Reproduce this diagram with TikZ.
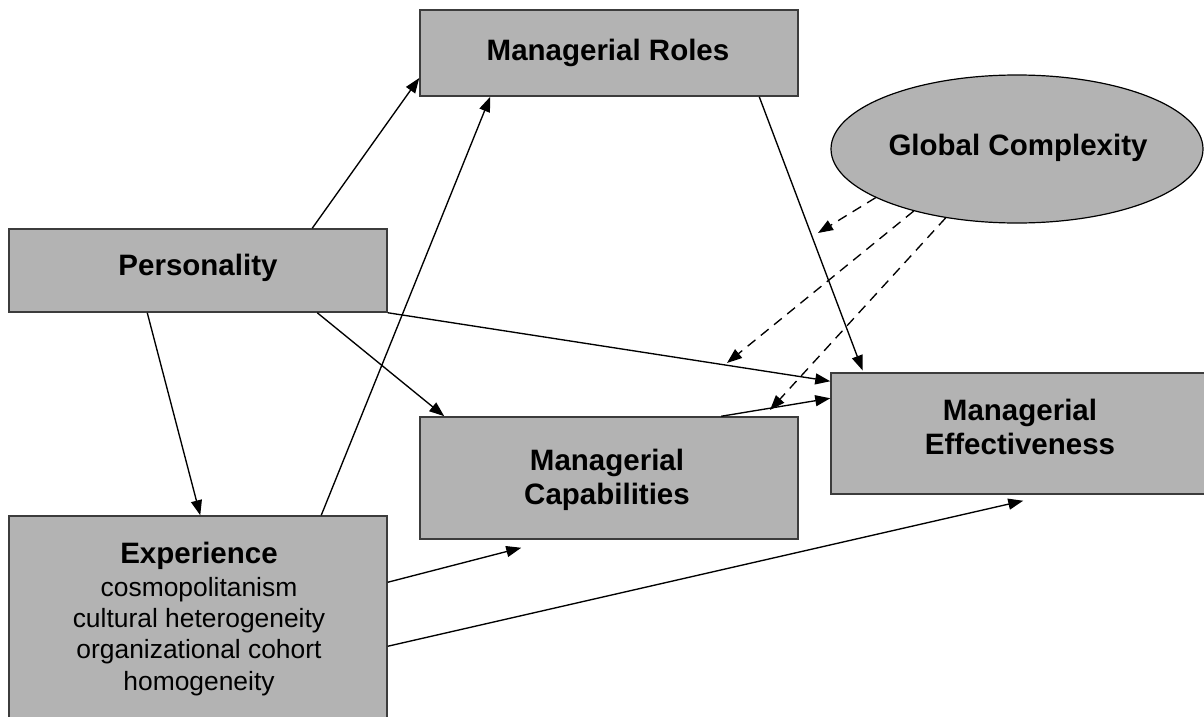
\documentclass[tikz,border=0pt]{standalone}
\usepackage{fontspec}
\setmainfont{Liberation Sans}
\usetikzlibrary{arrows.meta,shapes.geometric}
\definecolor{boxgray}{RGB}{179,179,179}
\definecolor{edgegray}{RGB}{60,60,60}
\begin{document}
\begin{tikzpicture}[x=1pt,y=-1pt,
  box/.style={draw=edgegray, line width=1.5pt, fill=boxgray, rectangle, inner sep=0pt},
  ell/.style={draw=black, line width=1.2pt, fill=boxgray, ellipse, inner sep=0pt},
  conn/.style={line width=1.35pt, -{Triangle[length=15pt,width=11pt]}},
  modarrow/.style={conn, dash pattern=on 10pt off 7pt},
  ttl/.style={font=\fontsize{29.5}{34}\selectfont\bfseries, align=center, inner sep=0pt, anchor=base},
  subtxt/.style={font=\fontsize{26.4}{31.3}\selectfont, align=center, inner sep=0pt, anchor=base}]
\useasboundingbox (0,0) rectangle (1204,717);
\begin{scope}
\clip (0,0) rectangle (1204,717);
% boxes
\node[box, minimum width=378pt, minimum height=86pt] (roles) at (609,53) {};
\node[ell, minimum width=372pt, minimum height=148pt] (glob) at (1017,149) {};
\node[box, minimum width=378pt, minimum height=83pt] (pers) at (198,270.5) {};
\node[box, minimum width=389pt, minimum height=121pt] (eff) at (1025.5,433.5) {};
\node[box, minimum width=378pt, minimum height=122pt] (cap) at (609,478) {};
\node[box, minimum width=378pt, minimum height=224pt] (exp) at (198,628) {};
% labels (base anchor = baseline of last line)
\node[ttl] (rolesT) at (608,61) {Managerial Roles};
\node[ttl] (globT) at (1018,155) {Global Complexity};
\node[ttl] (persT) at (198,275) {Personality};
\node[ttl] (effT) at (1020,454) {Managerial\\Effectiveness};
\node[ttl] (capT) at (607,504) {Managerial\\Capabilities};
\node[ttl] (expT) at (199,563) {Experience};
\node[subtxt] (expS) at (199,690) {cosmopolitanism\\cultural heterogeneity\\organizational cohort\\homogeneity};
% connectors
\draw[conn] ([xshift=304pt]pers.north west) -- ([yshift=-25pt]roles.west);
\draw[conn] ([xshift=313pt]exp.north west) -- ([xshift=71pt]roles.south west);
\draw[conn, shorten >=2pt] ([xshift=340pt]roles.south west) -- ([xshift=33pt]eff.north west);
\draw[conn] (pers.south east) -- ([yshift=-9pt]eff.north west);
\draw[conn] ([xshift=309pt]pers.south west) -- ([xshift=25pt]cap.north west);
\draw[conn] ([xshift=139pt]pers.south west) -- ([xshift=192pt]exp.north west);
\draw[conn] ([xshift=302pt]cap.north west) -- ([yshift=-26pt]eff.north west);
\draw[conn] ([yshift=-67pt]exp.north east) -- ([xshift=102pt,yshift=-8pt]cap.south west);
\draw[conn] ([yshift=-131pt]exp.north east) -- ([xshift=193pt,yshift=-6pt]eff.south west);
% moderating effects
\coordinate (m1) at (818,233);
\coordinate (m2) at (727,363);
\coordinate (m3) at (770,410);
\draw[modarrow] (glob.199.4) -- (m1);
\draw[modarrow] (glob.211) -- (m2);
\draw[modarrow] (glob.224.2) -- (m3);
\end{scope}
\end{tikzpicture}
\end{document}
